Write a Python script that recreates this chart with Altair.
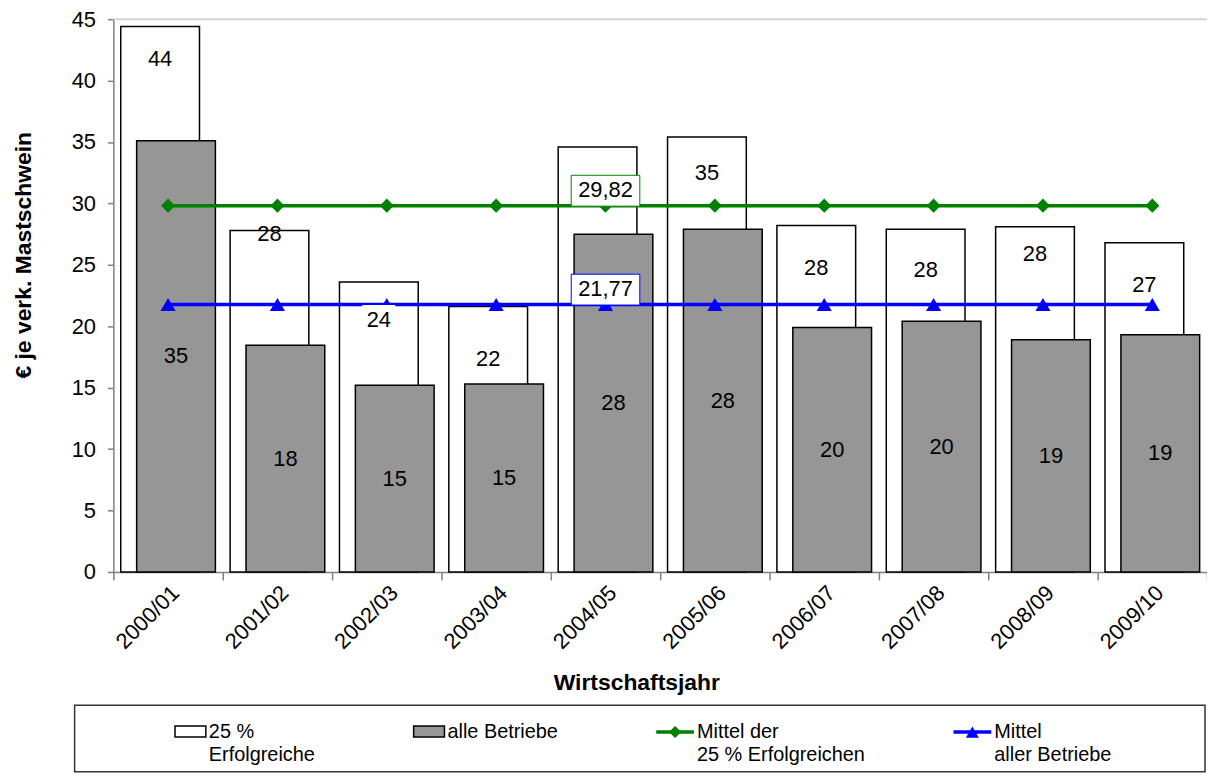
import altair as alt
import pandas as pd

# ---------------- data ----------------
years = ["2000/01", "2001/02", "2002/03", "2003/04", "2004/05",
         "2005/06", "2006/07", "2007/08", "2008/09", "2009/10"]
top25 = [44.4, 27.8, 23.6, 21.6, 34.6, 35.4, 28.2, 27.9, 28.1, 26.8]
alle = [35.1, 18.45, 15.2, 15.3, 27.5, 27.9, 19.9, 20.4, 18.9, 19.3]
# where the labels of the white bars sit (value units)
top25_label_y = [41.76, 27.52, 20.48, 17.32, None, 32.45, 24.77, 24.60, 25.90, 23.39]
mean_top25 = 29.82
mean_alle = 21.77
mean_label_year = "2004/05"

FONT = "Liberation Sans"
GREEN = "#008000"
BLUE = "#0000FF"
GRAY = "#969696"
W, H = 1100, 556

df = pd.DataFrame({
    "Jahr": years,
    "top": top25,
    "alle": alle,
    "top_ly": top25_label_y,
    "m_top": [mean_top25] * len(years),
    "m_alle": [mean_alle] * len(years),
})

base = alt.Chart(df)

X = alt.X("Jahr:N", sort=years,
          scale=alt.Scale(paddingInner=0, paddingOuter=0),
          axis=alt.Axis(title="Wirtschaftsjahr", labelAngle=-45, labelAlign="right",
                        labelBaseline="top", labelPadding=2, labelFontSize=22,
                        labelColor="black", tickBand="extent", tickSize=8,
                        tickColor="#808080", tickWidth=1.5, domainColor="#808080",
                        domainWidth=1.5, titleFontSize=23, titleFontWeight="bold",
                        titleColor="black", titleX=526, titleY=111,
                        titleBaseline="middle", titleAlign="center"))

yscale = alt.Scale(domain=[0, 45], nice=False, zero=True)
yaxis = alt.Axis(title="€ je verk. Mastschwein", values=list(range(0, 46, 5)),
                 grid=False, labelFontSize=22, labelColor="black", labelPadding=12,
                 tickSize=6, tickColor="#808080", tickWidth=1.5,
                 domainColor="#808080", domainWidth=1.5,
                 titleFontSize=23, titleFontWeight="bold", titleColor="black",
                 titleX=-90, titleY=237, titleBaseline="middle", titleAlign="center",
                 titleAngle=270)


def Y(field):
    return alt.Y(field, scale=yscale, axis=yaxis)


white_bars = base.mark_bar(fill="white", stroke="black", strokeWidth=1.5,
                           width=alt.RelativeBandSize(0.72), xOffset=-8).encode(
    x=X, y=Y("top:Q"))
gray_bars = base.mark_bar(fill=GRAY, stroke="black", strokeWidth=1.5,
                          width=alt.RelativeBandSize(0.72), xOffset=8).encode(
    x=X, y=Y("alle:Q"))

green_line = base.mark_line(color=GREEN, strokeWidth=3.5).encode(x=X, y=Y("m_top:Q"))
green_pts = base.mark_point(shape="diamond", size=200, filled=True, color=GREEN,
                            opacity=1).encode(x=X, y=Y("m_top:Q"))
blue_line = base.mark_line(color=BLUE, strokeWidth=3.5).encode(x=X, y=Y("m_alle:Q"))
blue_pts = base.mark_point(shape="triangle-up", size=230, filled=True, color=BLUE,
                           opacity=1).encode(x=X, y=Y("m_alle:Q"))

label_box = base.transform_filter(alt.datum.Jahr == "2002/03").mark_point(
    shape="square", size=1100, filled=True, fill="white", opacity=1, strokeWidth=0,
    xOffset=-8, yOffset=1).encode(x=X, y=Y("top_ly:Q"))

white_labels = base.transform_filter("isValid(datum.top_ly)").mark_text(
    font=FONT, fontSize=22, color="black", xOffset=-8, baseline="middle").encode(
    x=X, y=Y("top_ly:Q"), text=alt.Text("top:Q", format=".0f"))

gray_labels = base.transform_calculate(mid="datum.alle / 2").mark_text(
    font=FONT, fontSize=22, color="black", xOffset=8, baseline="middle").encode(
    x=X, y=Y("mid:Q"), text=alt.Text("alle:Q", format=".0f"))

mean_df = base.transform_filter(alt.datum.Jahr == mean_label_year).transform_calculate(
    t_top="replace(format(datum.m_top, '.2f'), '.', ',')",
    t_alle="replace(format(datum.m_alle, '.2f'), '.', ',')")
BOX = "M-1,-0.45H1V0.45H-1Z"
box_top = mean_df.mark_point(shape=BOX, size=4761, filled=False, fill="white",
                             stroke=GREEN, strokeWidth=1, opacity=1, fillOpacity=1,
                             yOffset=-15).encode(x=X, y=Y("m_top:Q"))
box_alle = mean_df.mark_point(shape=BOX, size=4761, filled=False, fill="white",
                              stroke=BLUE, strokeWidth=1, opacity=1, fillOpacity=1,
                              yOffset=-15).encode(x=X, y=Y("m_alle:Q"))
txt_top = mean_df.mark_text(font=FONT, fontSize=22, color="black", baseline="middle",
                            yOffset=-16).encode(x=X, y=Y("m_top:Q"), text="t_top:N")
txt_alle = mean_df.mark_text(font=FONT, fontSize=22, color="black", baseline="middle",
                             yOffset=-16).encode(x=X, y=Y("m_alle:Q"), text="t_alle:N")

# ---------------- decorations: top border + legend ----------------
one = alt.Chart(pd.DataFrame({"k": [0]}))
top_border = one.mark_rule(color="#d4d4d4", strokeWidth=2).encode(
    x=alt.value(0), x2=alt.value(W), y=alt.value(0))

legend_box = one.mark_rect(fill="white", fillOpacity=0, stroke="#333333",
                           strokeWidth=1.5).encode(
    x=alt.value(-39), x2=alt.value(1098), y=alt.value(690), y2=alt.value(757))
leg_white = one.mark_rect(fill="white", stroke="black", strokeWidth=1.5).encode(
    x=alt.value(62), x2=alt.value(93), y=alt.value(711), y2=alt.value(722))
leg_gray = one.mark_rect(fill=GRAY, stroke="black", strokeWidth=1.5).encode(
    x=alt.value(302), x2=alt.value(333), y=alt.value(711), y2=alt.value(722))
leg_green = one.mark_rule(color=GREEN, strokeWidth=3.5).encode(
    x=alt.value(546), x2=alt.value(584), y=alt.value(717))
leg_green_pt = one.mark_point(shape="diamond", size=150, filled=True, color=GREEN,
                              opacity=1).encode(x=alt.value(565), y=alt.value(717))
leg_blue = one.mark_rule(color=BLUE, strokeWidth=3.5).encode(
    x=alt.value(845), x2=alt.value(883), y=alt.value(717))
leg_blue_pt = one.mark_point(shape="triangle-up", size=170, filled=True, color=BLUE,
                             opacity=1).encode(x=alt.value(864), y=alt.value(717))

legend_texts = [
    ("25 %", 96, 717), ("Erfolgreiche", 96, 740),
    ("alle Betriebe", 336, 717),
    ("Mittel der", 587, 717), ("25 % Erfolgreichen", 587, 740),
    ("Mittel", 886, 717), ("aller Betriebe", 886, 740),
]
leg_txt_layers = [
    one.mark_text(font=FONT, fontSize=20, color="black", align="left",
                  baseline="middle").encode(x=alt.value(lx), y=alt.value(ly),
                                            text=alt.value(t))
    for t, lx, ly in legend_texts
]

chart = alt.layer(
    white_bars, gray_bars, green_line, green_pts, blue_line, blue_pts,
    label_box, white_labels, gray_labels,
    box_top, box_alle, txt_top, txt_alle,
    top_border, legend_box, leg_white, leg_gray, leg_green, leg_green_pt,
    leg_blue, leg_blue_pt, *leg_txt_layers,
).properties(
    width=W, height=H,
    autosize=alt.AutoSizeParams(type="none"),
    padding={"left": 106, "top": 9, "right": 0, "bottom": 202},
).configure(font=FONT).configure_view(stroke=None)

chart.save("out.html", embed_options={"renderer": "svg", "actions": False})
